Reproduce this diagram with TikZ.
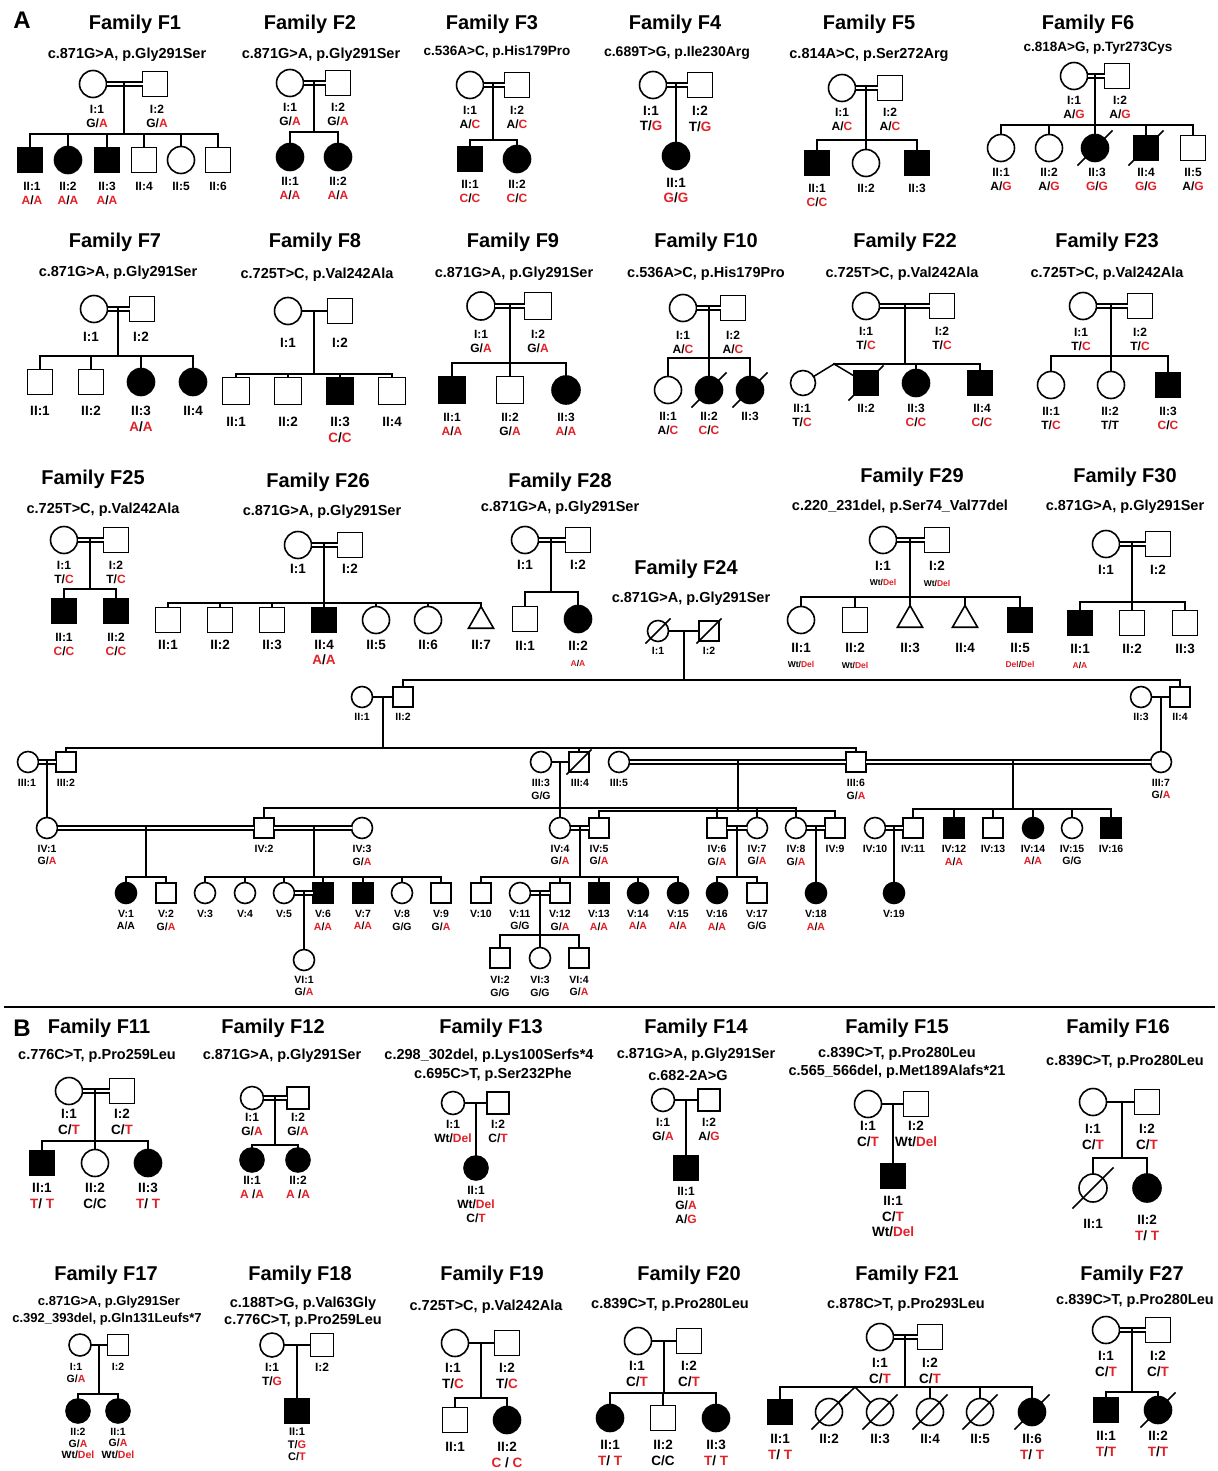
\documentclass[tikz,border=0pt]{standalone}
\usepackage{fontspec}
\setmainfont{Liberation Sans}
\usetikzlibrary{calc,shapes.geometric}
\definecolor{rd}{RGB}{226,32,40}
\newcommand\Rd[1]{\textcolor{rd}{#1}}
\newcommand\Rr[1]{\Rd{#1}/\Rd{#1}}
\newcommand\hz[2]{#1/\Rd{#2}}
\newcommand\WD{Wt/\Rd{Del}}
\newcommand\smf[1]{{\fontsize{8.5}{10}\selectfont #1}}
\newcounter{lb}
\newcommand\Lb[3][]{\stepcounter{lb}\node[lab,#1] (t\arabic{lb}) at (#2) {#3};}
\newcommand\Mn[3][]{\node[sq,#1] (#2) at (#3) {};}
\newcommand\Fn[3][]{\node[ci,#1] (#2) at (#3) {};}
\newcommand\Tn[3][]{\node[tri,#1] (#2) at (#3) {};}
\newcommand\Cp[2]{\draw[ln] (#1) -- (#2);}
\newcommand\Cd[2]{\draw[dbl] (#1) -- (#2);}
\newcommand\Pm[2]{\coordinate (#1) at (#2);}
\newcommand\dec[2][17]{\draw[ln] ($(#2)+(-#1,#1)$) -- ($(#2)+(#1,-#1)$);}
\newcommand\onek[2]{\draw[ln] (#1) -- (#2.north);}
\newcommand\sibs[3]{\path (0,#2) coordinate (sbY);\draw[ln] (#1) -- (#1 |- sbY);\foreach \kid in {#3}{\draw[ln] (\kid.north) |- (#1 |- sbY);}}
\tikzset{
 ln/.style={line width=1.5pt, line cap=rect},
 dbl/.style={double, double distance=2.4pt, line width=1.4pt},
 ind/.style={draw, line width=1.6pt, inner sep=0pt, outer sep=0pt, minimum size=#1},
 sq/.style={rectangle, ind=#1}, sq/.default=25,
 ci/.style={circle, ind=#1}, ci/.default=27,
 tri/.style={regular polygon, regular polygon sides=3, ind=#1}, tri/.default=29,
 aff/.style={fill=black},
 lab/.style={font=\fontsize{12}{14}\selectfont\bfseries, align=center, anchor=north, inner sep=0pt},
 labL/.style={font=\fontsize{13.5}{15.5}\selectfont\bfseries},
 labS/.style={font=\fontsize{10.5}{12.5}\selectfont\bfseries},
 labT/.style={font=\fontsize{11}{12.5}\selectfont\bfseries},
 ttl/.style={font=\fontsize{20}{24}\selectfont\bfseries, anchor=center},
 mut/.style={font=\fontsize{14.5}{17}\selectfont\bfseries, anchor=center},
 mutS/.style={font=\fontsize{13.5}{16}\selectfont\bfseries},
 pan/.style={font=\fontsize{24}{26}\selectfont\bfseries, anchor=center},
}
\begin{document}
\begin{tikzpicture}[x=1pt,y=-1pt]
\fill[white] (0,0) rectangle (1217,1471);
\useasboundingbox (0,0) rectangle (1217,1471);
\Lb[pan]{22,20}{A}
% ---------- F1
\Lb[ttl]{135,24}{Family F1}
\Lb[mut]{127,55}{c.871G>A, p.Gly291Ser}
\Fn{p1a}{93,84} \Mn{p1b}{155,84} \Cd{p1a}{p1b} \Pm{m1}{124,84}
\Mn[aff]{k11}{30,160} \Fn[aff]{k12}{68,160} \Mn[aff]{k13}{107,160} \Mn{k14}{144,160} \Fn{k15}{181,160} \Mn{k16}{218,160}
\sibs{m1}{134}{k11,k12,k13,k14,k15,k16}
\Lb{97,105}{I:1\\\hz{G}{A}} \Lb{157,105}{I:2\\\hz{G}{A}}
\Lb{32,182}{II:1\\\Rr{A}} \Lb{68,182}{II:2\\\Rr{A}} \Lb{107,182}{II:3\\\Rr{A}} \Lb{144,182}{II:4} \Lb{181,182}{II:5} \Lb{218,182}{II:6}
% ---------- F2
\Lb[ttl]{310,24}{Family F2}
\Lb[mut]{321,55}{c.871G>A, p.Gly291Ser}
\Fn{p2a}{290,83} \Mn{p2b}{338,83} \Cd{p2a}{p2b} \Pm{m2}{314,83}
\Fn[aff]{k21}{290,157} \Fn[aff]{k22}{338,157}
\sibs{m2}{132}{k21,k22}
\Lb{290,103}{I:1\\\hz{G}{A}} \Lb{338,103}{I:2\\\hz{G}{A}}
\Lb{290,177}{II:1\\\Rr{A}} \Lb{338,177}{II:2\\\Rr{A}}
% ---------- F3
\Lb[ttl]{492,24}{Family F3}
\Lb[mut,mutS]{497,52}{c.536A>C, p.His179Pro}
\Fn{p3a}{470,85} \Mn{p3b}{517,85} \Cd{p3a}{p3b} \Pm{m3}{493,85}
\Mn[aff]{k31}{470,159} \Fn[aff]{k32}{517,159}
\sibs{m3}{140}{k31,k32}
\Lb{470,106}{I:1\\\hz{A}{C}} \Lb{517,106}{I:2\\\hz{A}{C}}
\Lb{470,180}{II:1\\\Rr{C}} \Lb{517,180}{II:2\\\Rr{C}}
% ---------- F4
\Lb[ttl]{675,24}{Family F4}
\Lb[mut,font=\fontsize{14}{16}\selectfont\bfseries]{677,53}{c.689T>G, p.Ile230Arg}
\Fn{p4a}{653,85} \Mn{p4b}{700,85} \Cd{p4a}{p4b} \Pm{m4}{676,85}
\Fn[aff]{k41}{676,156} \onek{m4}{k41}
\Lb[labL]{651,106}{I:1\\\hz{T}{G}} \Lb[labL]{700,106}{I:2\\\hz{T}{G}}
\Lb[labL]{676,178}{II:1\\\Rr{G}}
% ---------- F5
\Lb[ttl]{869,24}{Family F5}
\Lb[mut]{869,55}{c.814A>C, p.Ser272Arg}
\Fn{p5a}{842,88} \Mn{p5b}{890,88} \Cd{p5a}{p5b} \Pm{m5}{866,88}
\Mn[aff]{k51}{817,163} \Fn{k52}{866,163} \Mn[aff]{k53}{917,163}
\sibs{m5}{140}{k51,k52,k53}
\Lb{842,108}{I:1\\\hz{A}{C}} \Lb{890,108}{I:2\\\hz{A}{C}}
\Lb{817,184}{II:1\\\Rr{C}} \Lb{866,184}{II:2} \Lb{917,184}{II:3}
% ---------- F6
\Lb[ttl]{1088,24}{Family F6}
\Lb[mut,mutS]{1098,48}{c.818A>G, p.Tyr273Cys}
\Fn{p6a}{1074,76} \Mn{p6b}{1117,76} \Cd{p6a}{p6b} \Pm{m6}{1095,76}
\Fn{k61}{1001,148} \Fn{k62}{1049,148} \Fn[aff]{k63}{1095,148} \Mn[aff]{k64}{1146,148} \Mn{k65}{1193,148}
\sibs{m6}{125}{k61,k62,k63,k64,k65}
\dec{k63} \dec{k64}
\Lb{1074,96}{I:1\\\hz{A}{G}} \Lb{1120,96}{I:2\\\hz{A}{G}}
\Lb{1001,168}{II:1\\\hz{A}{G}} \Lb{1049,168}{II:2\\\hz{A}{G}} \Lb{1097,168}{II:3\\\Rr{G}} \Lb{1146,168}{II:4\\\Rr{G}} \Lb{1193,168}{II:5\\\hz{A}{G}}
% ---------- F7
\Lb[ttl]{115,242}{Family F7}
\Lb[mut]{118,273}{c.871G>A, p.Gly291Ser}
\Fn{p7a}{94,309} \Mn{p7b}{142,309} \Cd{p7a}{p7b} \Pm{m7}{118,309}
\Mn{k71}{40,382} \Mn{k72}{91,382} \Fn[aff]{k73}{141,382} \Fn[aff]{k74}{193,382}
\sibs{m7}{356}{k71,k72,k73,k74}
\Lb[labL]{91,332}{I:1} \Lb[labL]{141,332}{I:2}
\Lb[labL]{40,406}{II:1} \Lb[labL]{91,406}{II:2} \Lb[labL]{141,406}{II:3\\\Rr{A}} \Lb[labL]{193,406}{II:4}
% ---------- F8
\Lb[ttl]{315,242}{Family F8}
\Lb[mut]{317,275}{c.725T>C, p.Val242Ala}
\Fn{p8a}{288,311} \Mn{p8b}{340,311} \Cp{p8a}{p8b} \Pm{m8}{314,311}
\Mn[sq=27]{k81}{236,391} \Mn[sq=27]{k82}{288,391} \Mn[sq=27,aff]{k83}{340,391} \Mn[sq=27]{k84}{392,391}
\sibs{m8}{374}{k81,k82,k83,k84}
\Lb[labL]{288,338}{I:1} \Lb[labL]{340,338}{I:2}
\Lb[labL]{236,417}{II:1} \Lb[labL]{288,417}{II:2} \Lb[labL]{340,417}{II:3\\\Rr{C}} \Lb[labL]{392,417}{II:4}
% ---------- F9
\Lb[ttl]{513,242}{Family F9}
\Lb[mut]{514,274}{c.871G>A, p.Gly291Ser}
\Fn[ci=28]{p9a}{481,306} \Mn[sq=27]{p9b}{538,306} \Cd{p9a}{p9b} \Pm{m9}{510,306}
\Mn[sq=27,aff]{k91}{452,390} \Mn[sq=27]{k92}{510,390} \Fn[ci=28,aff]{k93}{566,390}
\sibs{m9}{363}{k91,k92,k93}
\Lb{481,330}{I:1\\\hz{G}{A}} \Lb{538,330}{I:2\\\hz{G}{A}}
\Lb{452,413}{II:1\\\Rr{A}} \Lb{510,413}{II:2\\\hz{G}{A}} \Lb{566,413}{II:3\\\Rr{A}}
% ---------- F10
\Lb[ttl]{706,242}{Family F10}
\Lb[mut]{706,274}{c.536A>C, p.His179Pro}
\Fn{p10a}{683,308} \Mn{p10b}{733,308} \Cd{p10a}{p10b} \Pm{m10}{709,308}
\Fn{k101}{668,390} \Fn[aff]{k102}{709,390} \Fn[aff]{k103}{750,390}
\sibs{m10}{358}{k101,k102,k103}
\dec{k102} \dec{k103}
\Lb{683,331}{I:1\\\hz{A}{C}} \Lb{733,331}{I:2\\\hz{A}{C}}
\Lb{668,412}{II:1\\\hz{A}{C}} \Lb{709,412}{II:2\\\Rr{C}} \Lb{750,412}{II:3}
% ---------- F22
\Lb[ttl]{905,242}{Family F22}
\Lb[mut]{902,274}{c.725T>C, p.Val242Ala}
\Fn{p22a}{866,306} \Mn{p22b}{942,306} \Cd{p22a}{p22b} \Pm{m22}{905,306}
\Fn[ci=25]{k221}{803,383} \Mn[aff]{k222}{866,383} \Fn[aff]{k223}{916,383} \Mn[aff]{k224}{980,383}
\sibs{m22}{364}{k223,k224}
\Pm{tw22}{834,364} \draw[ln] (tw22) -- (m22 |- tw22); \draw[ln] (tw22) -- (k221); \draw[ln] (tw22) -- (k222);
\dec{k222}
\Lb{866,327}{I:1\\\hz{T}{C}} \Lb{942,327}{I:2\\\hz{T}{C}}
\Lb{802,404}{II:1\\\hz{T}{C}} \Lb{866,404}{II:2} \Lb{916,404}{II:3\\\Rr{C}} \Lb{982,404}{II:4\\\Rr{C}}
% ---------- F23
\Lb[ttl]{1107,242}{Family F23}
\Lb[mut]{1107,274}{c.725T>C, p.Val242Ala}
\Fn{p23a}{1083,306} \Mn{p23b}{1140,306} \Cd{p23a}{p23b} \Pm{m23}{1111,306}
\Fn{k231}{1051,385} \Fn{k232}{1111,385} \Mn[aff]{k233}{1168,385}
\sibs{m23}{356}{k231,k232,k233}
\Lb{1081,328}{I:1\\\hz{T}{C}} \Lb{1140,328}{I:2\\\hz{T}{C}}
\Lb{1051,407}{II:1\\\hz{T}{C}} \Lb{1110,407}{II:2\\T/T} \Lb{1168,407}{II:3\\\Rr{C}}
% ---------- F25
\Lb[ttl]{93,479}{Family F25}
\Lb[mut]{103,510}{c.725T>C, p.Val242Ala}
\Fn{p25a}{64,540} \Mn{p25b}{116,540} \Cd{p25a}{p25b} \Pm{m25}{90,540}
\Mn[aff]{k251}{64,611} \Mn[aff]{k252}{116,611}
\sibs{m25}{589}{k251,k252}
\Lb{64,561}{I:1\\\hz{T}{C}} \Lb{116,561}{I:2\\\hz{T}{C}}
\Lb{64,633}{II:1\\\Rr{C}} \Lb{116,633}{II:2\\\Rr{C}}
% ---------- F26
\Lb[ttl]{318,482}{Family F26}
\Lb[mut]{322,512}{c.871G>A, p.Gly291Ser}
\Fn{p26a}{298,545} \Mn{p26b}{350,545} \Cd{p26a}{p26b} \Pm{m26}{324,545}
\Mn{k261}{168,620} \Mn{k262}{220,620} \Mn{k263}{272,620} \Mn[aff]{k264}{324,620} \Fn{k265}{376,620} \Fn{k266}{428,620} \Tn{k267}{481,621}
\sibs{m26}{603}{k261,k262,k263,k264,k265,k266,k267}
\Lb[labL]{298,564}{I:1} \Lb[labL]{350,564}{I:2}
\Lb[labL]{168,640}{II:1} \Lb[labL]{220,640}{II:2} \Lb[labL]{272,640}{II:3} \Lb[labL]{324,640}{II:4\\\Rr{A}} \Lb[labL]{376,640}{II:5} \Lb[labL]{428,640}{II:6} \Lb[labL]{481,640}{II:7}
% ---------- F28
\Lb[ttl]{560,482}{Family F28}
\Lb[mut]{560,508}{c.871G>A, p.Gly291Ser}
\Fn{p28a}{525,540} \Mn{p28b}{578,540} \Cd{p28a}{p28b} \Pm{m28}{551,540}
\Mn{k281}{525,619} \Fn[aff]{k282}{578,619}
\sibs{m28}{592}{k281,k282}
\Lb[labL]{525,560}{I:1} \Lb[labL]{578,560}{I:2}
\Lb[labL]{525,641}{II:1} \Lb[labL]{578,641}{II:2\\\smf{\Rr{A}}}
% ---------- F29
\Lb[ttl]{912,477}{Family F29}
\Lb[mut]{900,507}{c.220\_231del, p.Ser74\_Val77del}
\Fn{p29a}{883,540} \Mn{p29b}{937,540} \Cd{p29a}{p29b} \Pm{m29}{910,540}
\Fn{k291}{801,620} \Mn{k292}{855,620} \Tn{k293}{910,620} \Tn{k294}{965,620} \Mn[aff]{k295}{1020,620}
\sibs{m29}{597}{k291,k292,k293,k294,k295}
\Lb[labL]{883,561}{I:1\\\smf{\WD}} \Lb[labL]{937,561}{I:2\\\smf{\WD}}
\Lb[labL]{801,643}{II:1\\\smf{\WD}} \Lb[labL]{855,643}{II:2\\\smf{\WD}} \Lb[labL]{910,643}{II:3} \Lb[labL]{965,643}{II:4} \Lb[labL]{1020,643}{II:5\\\smf{\Rr{Del}}}
% ---------- F30
\Lb[ttl]{1125,477}{Family F30}
\Lb[mut]{1125,507}{c.871G>A, p.Gly291Ser}
\Fn{p30a}{1106,544} \Mn{p30b}{1158,544} \Cd{p30a}{p30b} \Pm{m30}{1132,544}
\Mn[aff]{k301}{1080,623} \Mn{k302}{1132,623} \Mn{k303}{1185,623}
\sibs{m30}{602}{k301,k302,k303}
\Lb[labL]{1106,565}{I:1} \Lb[labL]{1158,565}{I:2}
\Lb[labL]{1080,644}{II:1\\\smf{\Rr{A}}} \Lb[labL]{1132,644}{II:2} \Lb[labL]{1185,644}{II:3}
% ---------- F24
\Lb[ttl]{686,569}{Family F24}
\Lb[mut]{691,599}{c.871G>A, p.Gly291Ser}
\Fn[ci=21]{g11}{658,631} \Mn[sq=20]{g12}{709,631} \Cp{g11}{g12} \Pm{gm1}{684,631}
\dec[12]{g11} \dec[12]{g12}
\Fn[ci=21]{g21}{362,697} \Mn[sq=20]{g22}{403,697} \Cp{g21}{g22} \Pm{gm2}{383,697}
\Fn[ci=21]{g23}{1141,697} \Mn[sq=20]{g24}{1180,697} \Cp{g23}{g24} \Pm{gm3}{1161,697}
\sibs{gm1}{680}{g22,g24}
\Fn[ci=21]{g31}{28,762} \Mn[sq=20]{g32}{66,762} \Cd{g31}{g32} \Pm{gm4}{47,762}
\Fn[ci=21]{g33}{541,762} \Mn[sq=20]{g34}{579,762} \Cp{g33}{g34} \dec[12]{g34} \Pm{gm5}{560,762}
\Fn[ci=21]{g35}{619,762} \Mn[sq=20]{g36}{856,762} \Cd{g35}{g36} \Pm{gm6}{738,762}
\Fn[ci=21]{g37}{1161,762} \Cd{g36}{g37} \Pm{gm7}{1013,762}
\sibs{gm2}{748}{g32,g34,g36}
\onek{gm3}{g37}
\Fn[ci=21]{g41}{47,828} \Mn[sq=20]{g42}{264,828} \Fn[ci=21]{g43}{362,828} \Cd{g41}{g42} \Cd{g42}{g43} \Pm{gm8}{146,828} \Pm{gm9}{314,828}
\onek{gm4}{g41}
\Fn[ci=21]{g44}{560,828} \Mn[sq=20]{g45}{599,828} \Cd{g44}{g45} \Pm{gm10}{580,828}
\onek{gm5}{g44}
\Mn[sq=20]{g46}{717,828} \Fn[ci=21]{g47}{757,828} \Cd{g46}{g47} \Pm{gm11}{737,828}
\Fn[ci=21]{g48}{796,828} \Mn[sq=20]{g49}{835,828} \Cd{g48}{g49} \Pm{gm12}{816,828}
\sibs{gm6}{808}{g42,g46,g47,g48}
\sibs{gm6}{811}{g45,g49}
\Fn[ci=21]{g410}{875,828} \Mn[sq=20]{g411}{913,828} \Cd{g410}{g411} \Pm{gm13}{894,828}
\Mn[sq=20,aff]{g412}{954,828} \Mn[sq=20]{g413}{993,828} \Fn[ci=21,aff]{g414}{1033,828} \Fn[ci=21]{g415}{1072,828} \Mn[sq=20,aff]{g416}{1111,828}
\sibs{gm7}{809}{g411,g412,g413,g414,g415,g416}
\Fn[ci=21,aff]{g51}{126,893} \Mn[sq=20]{g52}{166,893}
\sibs{gm8}{877}{g51,g52}
\Fn[ci=21]{g53}{205,893} \Fn[ci=21]{g54}{245,893} \Fn[ci=21]{g55}{284,893} \Mn[sq=20,aff]{g56}{323,893} \Mn[sq=20,aff]{g57}{363,893} \Fn[ci=21]{g58}{402,893} \Mn[sq=20]{g59}{441,893}
\sibs{gm9}{877}{g53,g54,g55,g56,g57,g58,g59}
\Cd{g55}{g56} \Pm{gm14}{304,893}
\Mn[sq=20]{g510}{481,893} \Fn[ci=21]{g511}{520,893} \Mn[sq=20]{g512}{560,893} \Mn[sq=20,aff]{g513}{599,893} \Fn[ci=21,aff]{g514}{638,893} \Fn[ci=21,aff]{g515}{678,893}
\sibs{gm10}{877}{g510,g512,g513,g514,g515}
\Cd{g511}{g512} \Pm{gm15}{540,893}
\Fn[ci=21,aff]{g516}{717,893} \Mn[sq=20]{g517}{757,893}
\sibs{gm11}{877}{g516,g517}
\Fn[ci=21,aff]{g518}{816,893} \onek{gm12}{g518}
\Fn[ci=21,aff]{g519}{894,893} \onek{gm13}{g519}
\Fn[ci=21]{g61}{304,960} \onek{gm14}{g61}
\Mn[sq=20]{g62}{500,958} \Fn[ci=21]{g63}{540,958} \Mn[sq=20]{g64}{579,958}
\sibs{gm15}{935}{g62,g63,g64}
\Lb[labS]{658,647}{I:1} \Lb[labS]{709,647}{I:2}
\Lb[labS]{362,713}{II:1} \Lb[labS]{403,713}{II:2} \Lb[labS]{1141,713}{II:3} \Lb[labS]{1180,713}{II:4}
\Lb[labS]{27,779}{III:1} \Lb[labS]{66,779}{III:2} \Lb[labS]{541,779}{III:3\\G/G} \Lb[labS]{580,779}{III:4} \Lb[labS]{619,779}{III:5} \Lb[labS]{856,779}{III:6\\\hz{G}{A}} \Lb[labS]{1161,779}{III:7\\\hz{G}{A}}
\Lb[labS]{47,845}{IV:1\\\hz{G}{A}} \Lb[labS]{264,845}{IV:2} \Lb[labS]{362,845}{IV:3\\\hz{G}{A}} \Lb[labS]{560,845}{IV:4\\\hz{G}{A}} \Lb[labS]{599,845}{IV:5\\\hz{G}{A}} \Lb[labS]{717,845}{IV:6\\\hz{G}{A}} \Lb[labS]{757,845}{IV:7\\\hz{G}{A}} \Lb[labS]{796,845}{IV:8\\\hz{G}{A}} \Lb[labS]{835,845}{IV:9} \Lb[labS]{875,845}{IV:10} \Lb[labS]{913,845}{IV:11} \Lb[labS]{954,845}{IV:12\\\Rr{A}} \Lb[labS]{993,845}{IV:13} \Lb[labS]{1033,845}{IV:14\\\Rr{A}} \Lb[labS]{1072,845}{IV:15\\G/G} \Lb[labS]{1111,845}{IV:16}
\Lb[labS]{126,910}{V:1\\A/A} \Lb[labS]{166,910}{V:2\\\hz{G}{A}} \Lb[labS]{205,910}{V:3} \Lb[labS]{245,910}{V:4} \Lb[labS]{284,910}{V:5} \Lb[labS]{323,910}{V:6\\\Rr{A}} \Lb[labS]{363,910}{V:7\\\Rr{A}} \Lb[labS]{402,910}{V:8\\G/G} \Lb[labS]{441,910}{V:9\\\hz{G}{A}} \Lb[labS]{481,910}{V:10} \Lb[labS]{520,910}{V:11\\G/G} \Lb[labS]{560,910}{V:12\\\hz{G}{A}} \Lb[labS]{599,910}{V:13\\\Rr{A}} \Lb[labS]{638,910}{V:14\\\Rr{A}} \Lb[labS]{678,910}{V:15\\\Rr{A}} \Lb[labS]{717,910}{V:16\\\Rr{A}} \Lb[labS]{757,910}{V:17\\G/G} \Lb[labS]{816,910}{V:18\\\Rr{A}} \Lb[labS]{894,910}{V:19}
\Lb[labS]{304,976}{VI:1\\\hz{G}{A}} \Lb[labS]{500,976}{VI:2\\G/G} \Lb[labS]{540,976}{VI:3\\G/G} \Lb[labS]{579,976}{VI:4\\\hz{G}{A}}
% ---------- divider
\draw[line width=2pt] (4,1007) -- (1215,1007);
\Lb[pan]{22,1028}{B}
% ---------- F11
\Lb[ttl]{99,1028}{Family F11}
\Lb[mut]{97,1056}{c.776C>T, p.Pro259Leu}
\Fn{p11a}{69,1091} \Mn{p11b}{122,1091} \Cd{p11a}{p11b} \Pm{m11}{95,1091}
\Mn[aff]{k111}{42,1163} \Fn{k112}{95,1163} \Fn[aff]{k113}{148,1163}
\sibs{m11}{1141}{k111,k112,k113}
\Lb[labL]{69,1109}{I:1\\\hz{C}{T}} \Lb[labL]{122,1109}{I:2\\\hz{C}{T}}
\Lb[labL]{42,1183}{II:1\\\Rd{T}/ \Rd{T}} \Lb[labL]{95,1183}{II:2\\C/C} \Lb[labL]{148,1183}{II:3\\\Rd{T}/ \Rd{T}}
% ---------- F12
\Lb[ttl]{273,1028}{Family F12}
\Lb[mut]{282,1056}{c.871G>A, p.Gly291Ser}
\Fn[ci=23]{p12a}{252,1098} \Mn[sq=22]{p12b}{298,1098} \Cd{p12a}{p12b} \Pm{m12}{275,1098}
\Fn[ci=24,aff]{k121}{252,1160} \Fn[ci=24,aff]{k122}{298,1160}
\sibs{m12}{1145}{k121,k122}
\Lb{252,1113}{I:1\\\hz{G}{A}} \Lb{298,1113}{I:2\\\hz{G}{A}}
\Lb{252,1176}{II:1\\\Rd{A} /\Rd{A}} \Lb{298,1176}{II:2\\\Rd{A} /\Rd{A}}
% ---------- F13
\Lb[ttl]{491,1028}{Family F13}
\Lb[mut]{489,1056}{c.298\_302del, p.Lys100Serfs*4}
\Lb[mut]{493,1075}{c.695C>T, p.Ser232Phe}
\Fn[ci=23]{p13a}{453,1103} \Mn[sq=22]{p13b}{498,1103} \Cp{p13a}{p13b} \Pm{m13}{476,1103}
\Fn[ci=24,aff]{k131}{476,1168} \onek{m13}{k131}
\Lb{453,1120}{I:1\\\WD} \Lb{498,1120}{I:2\\\hz{C}{T}}
\Lb{476,1186}{II:1\\\WD\\\hz{C}{T}}
% ---------- F14
\Lb[ttl]{696,1028}{Family F14}
\Lb[mut]{696,1055}{c.871G>A, p.Gly291Ser}
\Lb[mut]{688,1075}{c.682-2A>G}
\Fn[ci=23]{p14a}{663,1100} \Mn[sq=22]{p14b}{709,1100} \Cp{p14a}{p14b} \Pm{m14}{686,1100}
\Mn[sq=24,aff]{k141}{686,1168} \onek{m14}{k141}
\Lb{663,1118}{I:1\\\hz{G}{A}} \Lb{709,1118}{I:2\\\hz{A}{G}}
\Lb{686,1187}{II:1\\\hz{G}{A}\\\hz{A}{G}}
% ---------- F15
\Lb[ttl]{897,1028}{Family F15}
\Lb[mut]{897,1054}{c.839C>T, p.Pro280Leu}
\Lb[mut]{897,1072}{c.565\_566del, p.Met189Alafs*21}
\Fn{p15a}{868,1104} \Mn{p15b}{916,1104} \Cp{p15a}{p15b} \Pm{m15}{893,1104}
\Mn[aff]{k151}{893,1176} \onek{m15}{k151}
\Lb[labL]{868,1121}{I:1\\\hz{C}{T}} \Lb[labL]{916,1121}{I:2\\\WD}
\Lb[labL]{893,1196}{II:1\\\hz{C}{T}\\\WD}
% ---------- F16
\Lb[ttl]{1118,1028}{Family F16}
\Lb[mut]{1125,1062}{c.839C>T, p.Pro280Leu}
\Fn{p16a}{1093,1102} \Mn{p16b}{1147,1102} \Cp{p16a}{p16b} \Pm{m16}{1122,1102}
\Fn[ci=28]{k161}{1093,1188} \Fn[ci=28,aff]{k162}{1147,1188}
\sibs{m16}{1158}{k161,k162}
\dec[20]{k161}
\Lb[labL]{1093,1124}{I:1\\\hz{C}{T}} \Lb[labL]{1147,1124}{I:2\\\hz{C}{T}}
\Lb[labL]{1093,1219}{II:1} \Lb[labL]{1147,1215}{II:2\\\Rd{T}/ \Rd{T}}
% ---------- F17
\Lb[ttl]{106,1275}{Family F17}
\Lb[mut,font=\fontsize{13}{15}\selectfont\bfseries]{109,1302}{c.871G>A, p.Gly291Ser}
\Lb[mut,font=\fontsize{13}{15}\selectfont\bfseries]{107,1319}{c.392\_393del, p.Gln131Leufs*7}
\Fn[ci=22]{p17a}{80,1345} \Mn[sq=21]{p17b}{118,1345} \Cp{p17a}{p17b} \Pm{m17}{99,1345}
\Fn[ci=24,aff]{k171}{78,1411} \Fn[ci=24,aff]{k172}{118,1411}
\sibs{m17}{1394}{k171,k172}
\Lb[labS]{76,1363}{I:1\\\hz{G}{A}} \Lb[labS]{118,1363}{I:2}
\Lb[labS,font=\fontsize{10.5}{11.5}\selectfont\bfseries]{78,1428}{II:2\\\hz{G}{A}\\\WD} \Lb[labS,font=\fontsize{10.5}{11.5}\selectfont\bfseries]{118,1428}{II:1\\\hz{G}{A}\\\WD}
% ---------- F18
\Lb[ttl]{300,1275}{Family F18}
\Lb[mut]{303,1304}{c.188T>G, p.Val63Gly}
\Lb[mut]{303,1321}{c.776C>T, p.Pro259Leu}
\Fn[ci=24]{p18a}{272,1345} \Mn[sq=23]{p18b}{322,1345} \Cp{p18a}{p18b} \Pm{m18}{297,1345}
\Mn[aff]{k181}{297,1411} \onek{m18}{k181}
\Lb{272,1363}{I:1\\\hz{T}{G}} \Lb{322,1363}{I:2}
\Lb[labT]{297,1428}{II:1\\\hz{T}{G}\\\hz{C}{T}}
% ---------- F19
\Lb[ttl]{492,1275}{Family F19}
\Lb[mut]{486,1307}{c.725T>C, p.Val242Ala}
\Fn{p19a}{455,1343} \Mn{p19b}{507,1343} \Cp{p19a}{p19b} \Pm{m19}{481,1343}
\Mn{k191}{455,1420} \Fn[aff]{k192}{507,1420}
\sibs{m19}{1398}{k191,k192}
\Lb[labL]{453,1363}{I:1\\\hz{T}{C}} \Lb[labL]{507,1363}{I:2\\\hz{T}{C}}
\Lb[labL]{455,1442}{II:1} \Lb[labL]{507,1442}{II:2\\\Rd{C} / \Rd{C}}
% ---------- F20
\Lb[ttl]{689,1275}{Family F20}
\Lb[mut]{670,1305}{c.839C>T, p.Pro280Leu}
\Fn{p20a}{638,1341} \Mn{p20b}{689,1341} \Cp{p20a}{p20b} \Pm{m20}{664,1341}
\Fn[aff]{k201}{610,1418} \Mn{k202}{663,1418} \Fn[aff]{k203}{716,1418}
\sibs{m20}{1393}{k201,k202,k203}
\Lb[labL]{637,1361}{I:1\\\hz{C}{T}} \Lb[labL]{689,1361}{I:2\\\hz{C}{T}}
\Lb[labL]{610,1440}{II:1\\\Rd{T}/ \Rd{T}} \Lb[labL]{663,1440}{II:2\\C/C} \Lb[labL]{716,1440}{II:3\\\Rd{T}/ \Rd{T}}
% ---------- F21
\Lb[ttl]{907,1275}{Family F21}
\Lb[mut]{906,1305}{c.878C>T, p.Pro293Leu}
\Fn{p21a}{880,1337} \Mn{p21b}{930,1337} \Cd{p21a}{p21b} \Pm{m21}{905,1337}
\Mn[aff]{k211}{780,1412} \Fn{k212}{829,1412} \Fn{k213}{880,1412} \Fn{k214}{930,1412} \Fn{k215}{980,1412} \Fn[aff]{k216}{1032,1412}
\sibs{m21}{1387}{k211,k214,k215,k216}
\Pm{tw21}{855,1387} \draw[ln] (tw21) -- (k212); \draw[ln] (tw21) -- (k213);
\dec{k212} \dec{k213} \dec{k214} \dec{k215} \dec{k216}
\Lb[labL]{880,1358}{I:1\\\hz{C}{T}} \Lb[labL]{930,1358}{I:2\\\hz{C}{T}}
\Lb[labL]{780,1434}{II:1\\\Rd{T}/ \Rd{T}} \Lb[labL]{829,1434}{II:2} \Lb[labL]{880,1434}{II:3} \Lb[labL]{930,1434}{II:4} \Lb[labL]{980,1434}{II:5} \Lb[labL]{1032,1434}{II:6\\\Rd{T}/ \Rd{T}}
% ---------- F27
\Lb[ttl]{1132,1275}{Family F27}
\Lb[mut]{1135,1301}{c.839C>T, p.Pro280Leu}
\Fn{p27a}{1106,1330} \Mn{p27b}{1158,1330} \Cd{p27a}{p27b} \Pm{m27}{1132,1330}
\Mn[aff]{k271}{1106,1410} \Fn[aff]{k272}{1158,1410}
\sibs{m27}{1392}{k271,k272}
\dec{k272}
\Lb[labL]{1106,1431}{II:1\\\Rr{T}} \Lb[labL]{1158,1431}{II:2\\\Rr{T}}
\Lb[labL]{1106,1351}{I:1\\\hz{C}{T}} \Lb[labL]{1158,1351}{I:2\\\hz{C}{T}}
\end{tikzpicture}
\end{document}
